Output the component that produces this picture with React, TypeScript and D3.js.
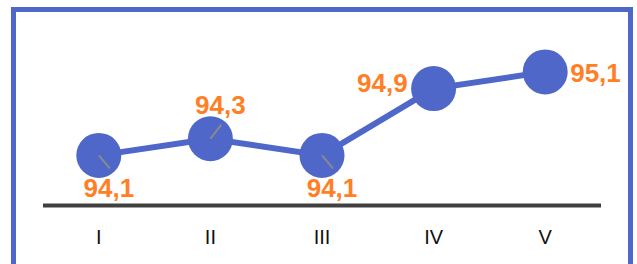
import React from "react";
import * as d3 from "d3";

const categories = ["I", "II", "III", "IV", "V"];
const values = [94.1, 94.3, 94.1, 94.9, 95.1];
const valueLabels = ["94,1", "94,3", "94,1", "94,9", "95,1"];
// label placement around each point
const labelPlacement = ["below", "above", "below", "left", "right"];

const W = 637;
const H = 264;
const BLUE = "#4f67c9";
const ORANGE = "#ff7f27";

export default function App() {
  const x = d3.scaleBand<string>().domain(categories).range([43, 601]).padding(0);
  const y = d3.scaleLinear().domain([93.5, 95.5]).range([205.5, 38.5]);
  const cx = (c: string) => (x(c) as number) + x.bandwidth() / 2;

  const line = d3
    .line<number>()
    .x((_, i) => cx(categories[i]))
    .y((d) => y(d));

  const labelPos = (p: string) => {
    switch (p) {
      case "below":
        return { dx: 10, dy: 42, anchor: "middle", lx: 11, ly: 13 };
      case "above":
        return { dx: 10, dy: -25, anchor: "middle", lx: 11, ly: -14 };
      case "left":
        return { dx: -26, dy: 3, anchor: "end", lx: 0, ly: 0 };
      default:
        return { dx: 25, dy: 10, anchor: "start", lx: 0, ly: 0 };
    }
  };

  return (
    <svg
      width={W}
      height={H}
      style={{ position: "absolute", left: 0, top: 0, background: "#fff" }}
    >
      <rect x={13.5} y={9.5} width={617} height={320} fill="#fff" stroke={BLUE} strokeWidth={5} />
      <line x1={43} x2={601} y1={205.5} y2={205.5} stroke="#404040" strokeWidth={4} />
      {categories.map((c) => (
        <text
          key={c}
          x={cx(c)}
          y={244}
          textAnchor="middle"
          fontFamily="'Liberation Sans', Arial, sans-serif"
          fontSize={20}
          fill="#111"
        >
          {c}
        </text>
      ))}
      <path d={line(values) || ""} fill="none" stroke={BLUE} strokeWidth={6} />
      {values.map((v, i) => {
        const px = cx(categories[i]);
        const py = y(v);
        const lp = labelPos(labelPlacement[i]);
        return (
          <g key={i}>
            <circle cx={px} cy={py} r={22.5} fill={BLUE} />
            {(lp.lx !== 0 || lp.ly !== 0) && (
              <line
                x1={px}
                y1={py}
                x2={px + lp.lx}
                y2={py + lp.ly}
                stroke="#8a8a8a"
                strokeWidth={2}
              />
            )}
            <text
              x={px + lp.dx}
              y={py + lp.dy}
              textAnchor={lp.anchor as any}
              fontFamily="'Liberation Sans', Arial, sans-serif"
              fontWeight="bold"
              fontSize={26}
              fill={ORANGE}
            >
              {valueLabels[i]}
            </text>
          </g>
        );
      })}
    </svg>
  );
}
